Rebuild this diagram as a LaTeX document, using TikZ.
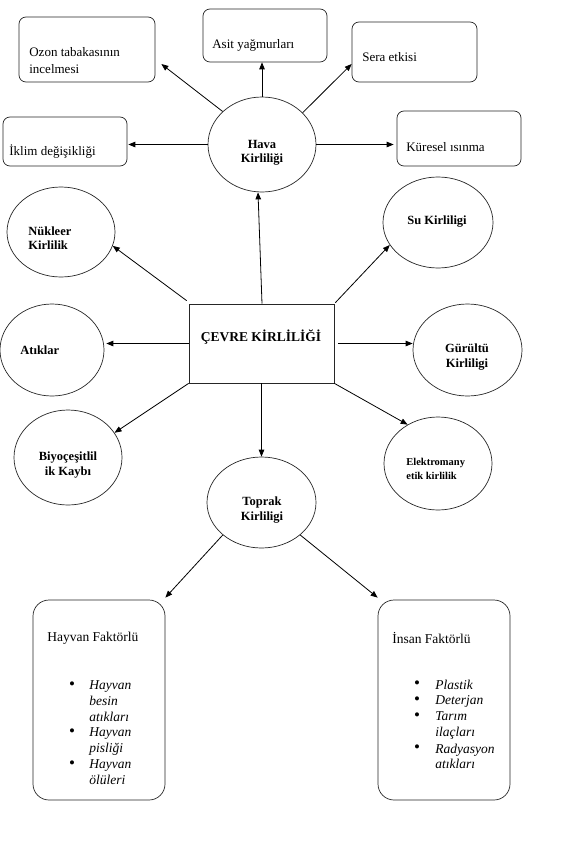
\documentclass[tikz,border=0pt]{standalone}
\usepackage{fontspec}
\setmainfont{Liberation Serif}
\usetikzlibrary{shapes.geometric,arrows.meta}
\begin{document}
\begin{tikzpicture}[x=1pt,y=-1pt,
  line width=0.7pt,
  topbox/.style={draw=black!85, rounded corners=7pt, inner sep=0pt},
  listbox/.style={draw=black!85, rounded corners=16pt, inner sep=0pt},
  oval/.style={draw=black!85, ellipse, inner sep=0pt},
  plain/.style={font=\fontsize{13}{17}\selectfont, inner sep=0pt, align=left},
  heading/.style={font=\fontsize{13.5}{17}\selectfont, inner sep=0pt, anchor=west},
  bold/.style={font=\fontsize{12.5}{14.5}\selectfont\bfseries, inner sep=0pt, align=center},
  smallbold/.style={font=\fontsize{10.5}{14}\selectfont\bfseries, inner sep=0pt, align=left},
  itemtext/.style={font=\fontsize{13.5}{15.7}\selectfont\itshape, inner sep=0pt, align=left, anchor=north west},
  dot/.style={font=\fontsize{17}{17}\selectfont, inner sep=0pt},
  arr/.style={draw=black, line width=0.8pt, -{Triangle[length=7pt,width=5.5pt]}},
]
\useasboundingbox (0,0) rectangle (572,846);

% ---- effects of air pollution (top row of boxes)
\node[topbox, minimum width=136pt, minimum height=65pt] (ozon) at (87,49.5) {};
\node[topbox, minimum width=124pt, minimum height=53pt] (asit) at (265,35.5) {};
\node[topbox, minimum width=125pt, minimum height=60pt] (sera) at (414.5,52) {};
\node[topbox, minimum width=124pt, minimum height=49pt] (iklim) at (65,141.5) {};
\node[topbox, minimum width=124pt, minimum height=55pt] (kuresel) at (459,138.5) {};

\node[plain, anchor=west] (ozontxt) at (29,61) {Ozon tabakasının\\incelmesi};
\node[plain, anchor=west] (asittxt) at (212,45) {Asit yağmurları};
\node[plain, anchor=west] (seratxt) at (362,57) {Sera etkisi};
\node[plain, anchor=west] (iklimtxt) at (9,152) {İklim değişikliği};
\node[plain, anchor=west] (kureseltxt) at (406,147) {Küresel ısınma};

% ---- pollution types (ellipses)
\node[oval, minimum width=108pt, minimum height=95pt] (hava) at (262,144.5) {};
\node[oval, minimum width=108pt, minimum height=90pt] (nuk) at (61,232) {};
\node[oval, minimum width=110pt, minimum height=91pt] (su) at (438,222.5) {};
\node[oval, minimum width=104pt, minimum height=92pt] (atik) at (52,350) {};
\node[oval, minimum width=109pt, minimum height=92pt] (gur) at (467.5,350) {};
\node[oval, minimum width=108pt, minimum height=95pt] (biyo) at (68,457.5) {};
\node[oval, minimum width=109pt, minimum height=91pt] (toprak) at (261.5,502.5) {};
\node[oval, minimum width=108pt, minimum height=93pt] (elek) at (438,463.5) {};

\node[bold] (havatxt) at (262,153) {Hava\\Kirliliği};
\node[bold, align=left, anchor=west] (nuktxt) at (28,238) {Nükleer\\Kirlilik};
\node[bold] (sutxt) at (437,222) {Su Kirliligi};
\node[bold, anchor=west] (atiktxt) at (20,350) {Atıklar};
\node[bold] (gurtxt) at (467,357) {Gürültü\\Kirliligi};
\node[bold] (biyotxt) at (68,465) {Biyoçeşitlil\\ik Kaybı};
\node[bold] (topraktxt) at (262,510) {Toprak\\Kirliligi};
\node[smallbold, anchor=west] (elektxt) at (406,469) {Elektromany\\etik kirlilik};

% ---- central box
\node[draw=black!85, minimum width=145pt, minimum height=79pt, inner sep=0pt] (cevre) at (261.5,343.5) {};
\node[font=\fontsize{13.5}{16}\selectfont\bfseries, inner sep=0pt] (cevretxt) at (261,337) {ÇEVRE KİRLİLİĞİ};

% ---- soil pollution factors
\node[listbox, minimum width=132pt, minimum height=200pt] (hayvan) at (99,700) {};
\node[listbox, minimum width=132pt, minimum height=200pt] (insan) at (444,700) {};

\node[heading] (hayvantitle) at (47,638) {Hayvan Faktörlü};
\node[dot] (hb1) at (72,686) {\textbullet};
\node[dot] (hb2) at (72,733) {\textbullet};
\node[dot] (hb3) at (72,765) {\textbullet};
\node[itemtext] (hi1) at (89,680.5) {Hayvan\\besin\\atıkları};
\node[itemtext] (hi2) at (89,727.5) {Hayvan\\pisliği};
\node[itemtext] (hi3) at (89,759.5) {Hayvan\\ölüleri};

\node[heading] (insantitle) at (392,638) {İnsan Faktörlü};
\node[dot] (ib1) at (417,685) {\textbullet};
\node[dot] (ib2) at (417,701) {\textbullet};
\node[dot] (ib3) at (417,717) {\textbullet};
\node[dot] (ib4) at (417,749) {\textbullet};
\node[itemtext] (ii1) at (435,679.5) {Plastik};
\node[itemtext] (ii2) at (435,695.5) {Deterjan};
\node[itemtext] (ii3) at (435,711.5) {Tarım\\ilaçları};
\node[itemtext] (ii4) at (435,743.5) {Radyasyon\\atıkları};

% ---- connectors
\draw[arr] (hava.140) -- ([xshift=6pt,yshift=-14.5pt]ozon.east);
\draw[arr] (hava.north) -- (hava.north |- asit.south);
\draw[arr] (hava.38) -- ([yshift=-12pt]sera.west);
\draw[arr] (hava.west) -- ([xshift=1pt]hava.west -| iklim.east);
\draw[arr] (hava.east) -- ([xshift=-3pt]hava.east -| kuresel.west);

\draw[arr] ([xshift=0.5pt]cevre.north) -- ([xshift=-4pt]hava.south);
\draw[arr] ([shift={(-2pt,3pt)}]cevre.north west) -- (nuk.-15);
\draw[arr] ([shift={(1pt,1pt)}]cevre.north east) -- (su.205);
\draw[arr] (cevre.west) -- ([xshift=2pt]cevre.west -| atik.east);
\draw[arr] ([xshift=4pt]cevre.east) -- (cevre.east -| gur.west);
\draw[arr] (cevre.south west) -- (biyo.28);
\draw[arr] (cevre.south) -- (toprak.north);
\draw[arr] (cevre.south east) -- (elek.128);

\draw[arr] (toprak.220) -- ([yshift=2pt]hayvan.north east);
\draw[arr] (toprak.-40) -- ([yshift=2pt]insan.north west);
\end{tikzpicture}
\end{document}
